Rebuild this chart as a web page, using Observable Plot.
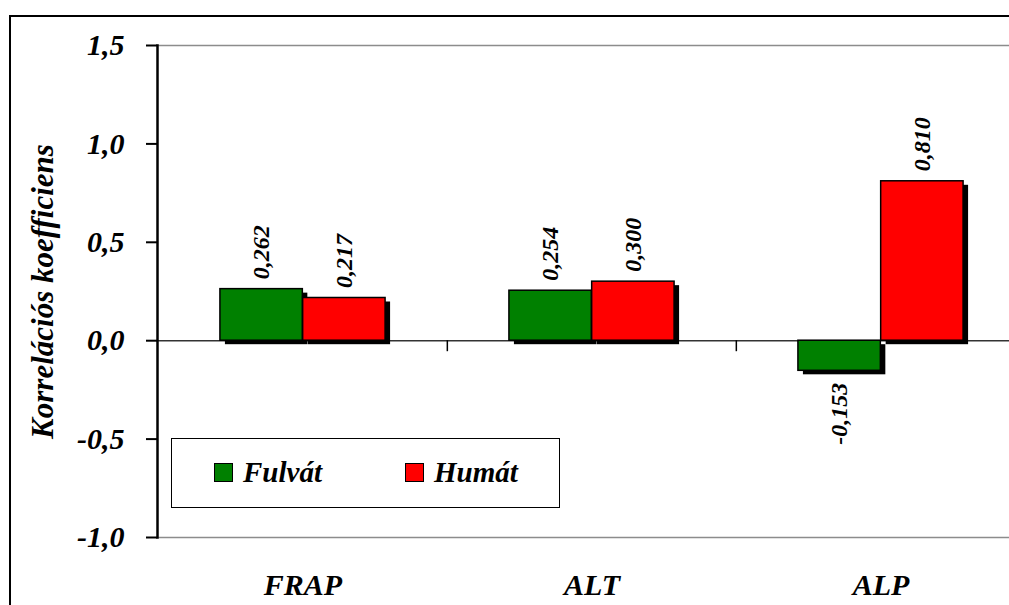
<!DOCTYPE html>
<html>
<head>
<meta charset="utf-8">
<script src="https://cdn.jsdelivr.net/npm/d3@7"></script>
<script src="https://cdn.jsdelivr.net/npm/@observablehq/plot@0.6"></script>
<style>
  html, body { margin: 0; padding: 0; background: #fff; overflow: hidden; width: 1009px; height: 605px; }
  #wrap { position: relative; width: 1009px; height: 605px; overflow: hidden; }
  #border { position: absolute; left: 9px; top: 15px; width: 1100px; height: 700px; border: 2.5px solid #000; box-sizing: border-box; }
  #chart { position: absolute; left: 0; top: 0; width: 1035px; height: 605px; }
  #chart svg { max-width: none !important; }
  #legend { position: absolute; left: 171px; top: 438px; width: 389px; height: 70px; border: 1.5px solid #000; box-sizing: border-box; background: #fff;
    font-family: "Liberation Serif", "Times New Roman", serif; font-weight: bold; font-style: italic; font-size: 29px; }
  .item { position: absolute; top: 0; height: 67px; display: flex; align-items: center; }
  .sw { width: 19px; height: 19px; border: 1.5px solid #000; box-sizing: border-box; margin-right: 10px; }
</style>
</head>
<body>
<div id="wrap">
  <div id="border"></div>
  <div id="chart"></div>
  <div id="legend"></div>
</div>
<script>
const categories = ["FRAP", "ALT", "ALP"];
const series = ["Fulvát", "Humát"];
const fulvatValues = [0.262, 0.254, -0.153];
const humatValues = [0.217, 0.300, 0.810];
const colors = ["#008000", "#ff0000"];
const yTicks = [-1.0, -0.5, 0.0, 0.5, 1.0, 1.5];
const yLabel = "Korrelációs koefficiens";

const W = 1035, H = 605, mL = 157, mR = 10, mT = 45, mB = 68;
const bw = (W - mL - mR) / categories.length;
const groupFrac = 0.572;           // share of a band taken by the pair of bars
const barW = bw * groupFrac / 2;
const inset = (bw - barW) / 2;
const comma = f => v => f(v).replace(".", ",").replace("\u2212", "-");
const fmt1 = comma(d3.format(".1f"));
const fmt3 = comma(d3.format(".3f"));
const font = '"Liberation Serif", "Times New Roman", serif';
const bandCenterOffset = -bw / 2;
const shadowDx = 5, shadowDy = 4;

const seriesData = [fulvatValues, humatValues].map((vals, s) =>
  categories.map((c, i) => ({cat: c, series: series[s], value: vals[i]})));
const offsets = [-barW / 2, barW / 2];

const shadowMarks = seriesData.map((d, s) =>
  Plot.barY(d, {x: "cat", y: "value", fill: "#000", insetLeft: inset, insetRight: inset, dx: offsets[s] + shadowDx, dy: shadowDy}));
const barMarks = seriesData.map((d, s) =>
  Plot.barY(d, {x: "cat", y: "value", fill: colors[s], stroke: "#000", strokeWidth: 1.5, insetLeft: inset, insetRight: inset, dx: offsets[s]}));
const labelMarks = seriesData.flatMap((d, s) => [
  Plot.text(d.filter(e => e.value >= 0), {x: "cat", y: "value", text: e => fmt3(e.value), rotate: -90, textAnchor: "start", dx: offsets[s], dy: -10, fontSize: 24}),
  Plot.text(d.filter(e => e.value < 0), {x: "cat", y: "value", text: e => fmt3(e.value), rotate: -90, textAnchor: "end", dx: offsets[s], dy: 12, fontSize: 24})
]);

const plot = Plot.plot({
  width: W, height: H,
  marginLeft: mL, marginRight: mR, marginTop: mT, marginBottom: mB,
  style: {fontFamily: font, fontWeight: "bold", fontStyle: "italic", background: "transparent", overflow: "visible", color: "#000", maxWidth: "none"},
  x: {domain: categories, padding: 0},
  y: {domain: [-1, 1.5]},
  marks: [
    Plot.frame({anchor: "top", stroke: "#8c8c8c", strokeWidth: 1.5}),
    Plot.frame({anchor: "bottom", stroke: "#8c8c8c", strokeWidth: 1.5}),
    Plot.ruleY([0], {stroke: "#333", strokeWidth: 1.5}),
    Plot.ruleX(categories.slice(1), {x: d => d, y1: 0, y2: 0, insetBottom: -11, dx: bandCenterOffset, stroke: "#000", strokeWidth: 1.5}),
    ...shadowMarks,
    ...barMarks,
    ...labelMarks,
    Plot.frame({anchor: "left", stroke: "#000", strokeWidth: 2.5}),
    Plot.axisY({ticks: yTicks, tickFormat: fmt1, tickSize: 11, tickPadding: 22, fontSize: 30, label: null, stroke: "#000", strokeWidth: 2}),
    Plot.axisX({tickSize: 0, tickPadding: 36, fontSize: 30, label: null}),
    Plot.text([yLabel], {frameAnchor: "left", textAnchor: "middle", rotate: -90, dx: -114, fontSize: 31, text: d => d})
  ]
});
document.getElementById("chart").appendChild(plot);

const legend = document.getElementById("legend");
const legendX = [42, 233];
series.forEach((name, s) => {
  const item = document.createElement("div");
  item.className = "item";
  item.style.left = legendX[s] + "px";
  const sw = document.createElement("div");
  sw.className = "sw";
  sw.style.background = colors[s];
  const t = document.createElement("span");
  t.textContent = name;
  item.appendChild(sw);
  item.appendChild(t);
  legend.appendChild(item);
});
</script>
</body>
</html>
